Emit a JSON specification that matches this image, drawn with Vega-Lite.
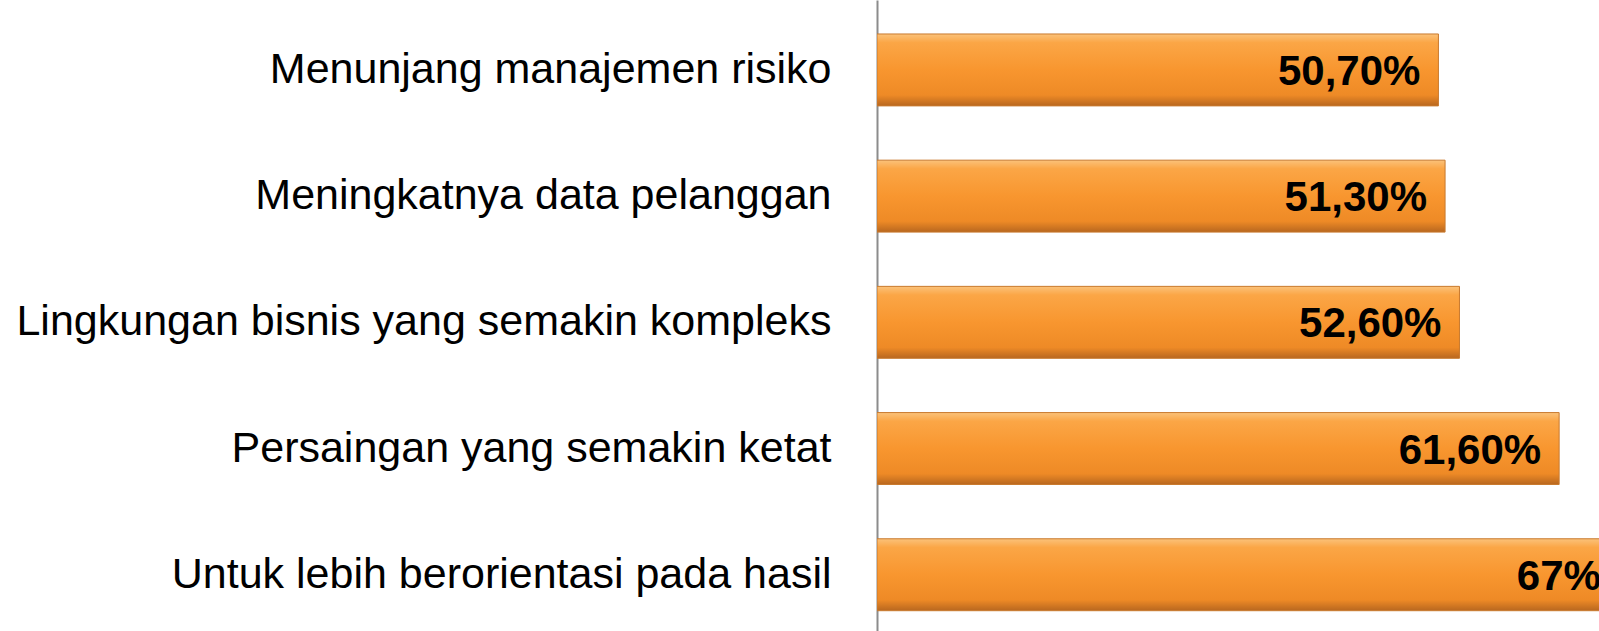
{
  "$schema": "https://vega.github.io/schema/vega-lite/v6.json",
  "autosize": {"type": "none"},
  "width": 722,
  "height": 631,
  "padding": {"left": 877, "top": 0, "right": 0, "bottom": 0},
  "background": "white",
  "config": {"view": {"stroke": null}},
  "data": {
    "values": [
      {"reason": "Menunjang manajemen risiko", "value": 50.7, "label": "50,70%"},
      {"reason": "Meningkatnya data pelanggan", "value": 51.3, "label": "51,30%"},
      {"reason": "Lingkungan bisnis yang semakin kompleks", "value": 52.6, "label": "52,60%"},
      {"reason": "Persaingan yang semakin ketat", "value": 61.6, "label": "61,60%"},
      {"reason": "Untuk lebih berorientasi pada hasil", "value": 67, "label": "67%"}
    ]
  },
  "encoding": {
    "y": {
      "field": "reason",
      "type": "nominal",
      "sort": null,
      "scale": {"paddingInner": 0.43, "paddingOuter": 0.215, "align": 0.626},
      "axis": {
        "title": null,
        "ticks": false,
        "domain": true,
        "domainColor": "#8c8c8c",
        "domainWidth": 2,
        "labelFont": "Liberation Sans",
        "labelFontSize": 43,
        "labelColor": "#000000",
        "labelPadding": 46,
        "labelLimit": 900
      }
    },
    "x": {
      "field": "value",
      "type": "quantitative",
      "scale": {"domain": [0, 65.2], "nice": false, "zero": true},
      "axis": null
    }
  },
  "layer": [
    {
      "mark": {
        "type": "bar",
        "clip": true,
        "fill": {
          "gradient": "linear",
          "x1": 0, "y1": 0, "x2": 0, "y2": 1,
          "stops": [
            {"offset": 0, "color": "#FBC27A"},
            {"offset": 0.12, "color": "#FBA646"},
            {"offset": 0.5, "color": "#F8962F"},
            {"offset": 0.85, "color": "#EE8A26"},
            {"offset": 1, "color": "#B8671F"}
          ]
        },
        "stroke": "#C97A2E",
        "strokeWidth": 1
      }
    },
    {
      "mark": {
        "type": "text",
        "clip": true,
        "align": "right",
        "baseline": "middle",
        "dx": -18,
        "dy": 2,
        "font": "Liberation Sans",
        "fontWeight": "bold",
        "fontSize": 42,
        "color": "#000000"
      },
      "encoding": {"text": {"field": "label"}}
    }
  ]
}
